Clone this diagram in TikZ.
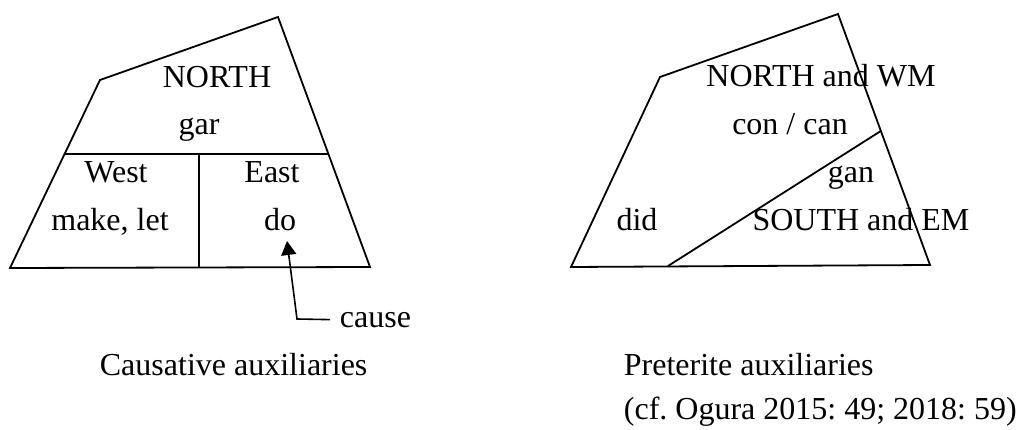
\documentclass[tikz,border=0pt]{standalone}
\usepackage{fontspec}
\setmainfont{Liberation Serif}
\usetikzlibrary{calc,arrows.meta}
\begin{document}
\frenchspacing
\begin{tikzpicture}[x=1pt,y=-1pt,line width=1.8pt,
  lbl/.style={anchor=base,inner sep=0pt,font=\fontsize{32}{38}\selectfont\frenchspacing},
  captext/.style={lbl,anchor=base west},
  pointer/.style={-{Triangle[length=14pt,width=15pt]},line width=1.6pt}]
\useasboundingbox (0,0) rectangle (1019,430);
% left diagram
\coordinate (LA) at (10,268);
\coordinate (LB) at (100,80);
\coordinate (LC) at (278,17);
\coordinate (LD) at (370,267);
\draw (LA) -- (LB) -- (LC) -- (LD) -- cycle;
\coordinate (LW) at ($(LA)!0.606!(LB)$);
\coordinate (LE) at ($(LC)!0.548!(LD)$);
\draw (LW) -- (LE);
\coordinate (LM) at (199,154);
\coordinate (LMB) at (199,267.5);
\draw (LM) -- (LMB);
\node[lbl] (north) at (217,88) {NORTH};
\node[lbl] (gar) at (199,135) {gar};
\node[lbl] (west) at (116,183) {West};
\node[lbl] (makelet) at (110,231) {make, let};
\node[lbl] (east) at (272,183) {East};
\node[lbl] (do) at (280,231) {do};
\node[captext] (cause) at (339,327) {cause};
\coordinate (bend) at (297,319);
\coordinate (dotip) at (287,241);
\draw[pointer] ([xshift=-9pt]cause.west) -- (bend) -- (dotip);
\node[captext] (causcap) at (99,375) {Causative auxiliaries};
% right diagram
\coordinate (RA) at (571,267);
\coordinate (RB) at (660,77);
\coordinate (RC) at (838,14);
\coordinate (RD) at (930,265);
\draw (RA) -- (RB) -- (RC) -- (RD) -- cycle;
\coordinate (RS) at (668,266);
\coordinate (RN) at ($(RC)!0.466!(RD)$);
\draw (RS) -- (RN);
\node[lbl] (northwm) at (821,87) {NORTH and WM};
\node[lbl] (concan) at (790,135) {con / can};
\node[lbl] (gan) at (851,183) {gan};
\node[lbl] (southem) at (861,231) {SOUTH and EM};
\node[lbl] (did) at (637,231) {did};
\node[captext] (pretcap) at (623,375) {Preterite auxiliaries};
\node[captext] (cfcap) at (623,419) {(cf. Ogura 2015: 49; 2018: 59)};
\end{tikzpicture}
\end{document}
